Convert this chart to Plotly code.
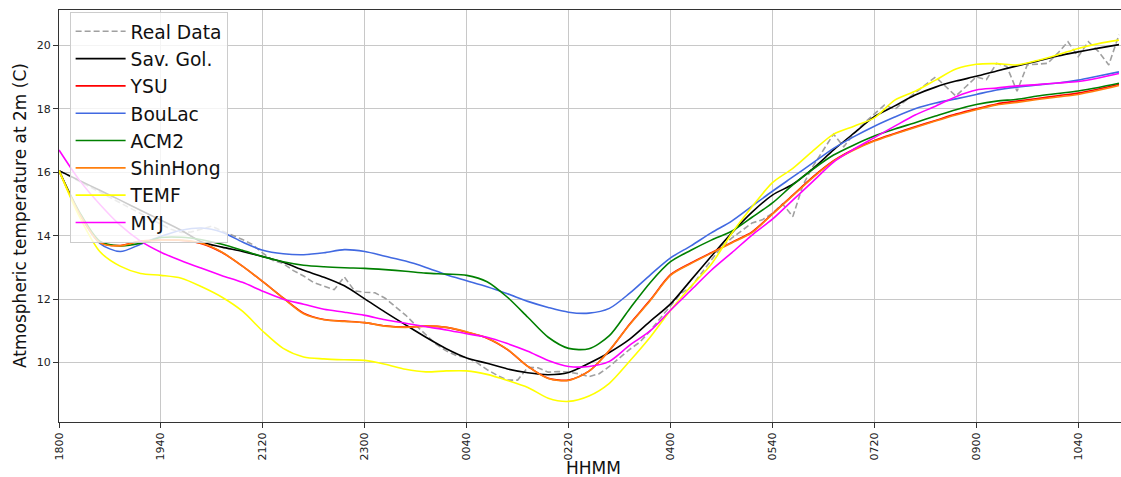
import plotly.graph_objects as go

# minutes after 18:00
t_real = list(range(0, 1041, 10))
t_model = list(range(0, 1041, 20))

tick_vals = [0, 100, 200, 300, 400, 500, 600, 700, 800, 900, 1000]
tick_text = ["1800", "1940", "2120", "2300", "0040", "0220", "0400", "0540", "0720", "0900", "1040"]

real_data = [
    16.05, 15.88, 15.72, 15.55, 15.38, 15.2, 15.02, 14.86, 14.7, 14.52,
    14.36, 14.2, 14.1, 14.12, 14.2, 14.3, 14.15, 14.02, 13.88, 13.72,
    13.45, 13.22, 13.12, 12.9, 12.73, 12.52, 12.4, 12.3, 12.7, 12.26,
    12.22, 12.2, 12.03, 11.75, 11.5, 11.18, 10.88, 10.58, 10.37, 10.22,
    10.16, 10.0, 9.78, 9.6, 9.45, 9.45, 9.85, 9.84, 9.7, 9.72,
    9.7, 9.65, 9.56, 9.65, 9.88, 10.15, 10.42, 10.65, 11.0, 11.4,
    11.8, 12.18, 12.38, 12.8, 13.25, 13.65, 13.92, 14.15, 14.4, 14.5,
    14.7, 15.0, 14.6, 15.6, 16.2, 16.7, 17.2, 16.8, 17.22, 17.55,
    17.85, 18.12, 17.98, 18.25, 18.5, 18.75, 19.0, 18.7, 18.4, 18.7,
    19.0, 18.92, 19.43, 19.33, 18.55, 19.38, 19.4, 19.43, 19.75, 20.11,
    19.64, 20.11, 19.8, 19.38, 20.33,
]

sav_gol = [
    16.05, 15.74, 15.43, 15.12, 14.8, 14.49, 14.17, 13.8, 13.64, 13.5,
    13.34, 13.16, 12.91, 12.69, 12.42, 12.01, 11.59, 11.19, 10.8, 10.44,
    10.15, 9.98, 9.8, 9.68, 9.62, 9.69, 9.98, 10.32, 10.74, 11.3,
    11.85, 12.6, 13.35, 14.08, 14.74, 15.28, 15.62, 16.12, 16.7, 17.23,
    17.75, 18.09, 18.43, 18.68, 18.87, 19.02, 19.19, 19.35, 19.5, 19.66,
    19.79, 19.91, 20.02,
]

ysu = [
    16.05, 14.7, 13.79, 13.69, 13.83, 13.86, 13.85, 13.75, 13.47, 13.04,
    12.55, 12.04, 11.56, 11.36, 11.31, 11.26, 11.16, 11.12, 11.15, 11.11,
    10.96, 10.77, 10.41, 9.88, 9.51, 9.45, 9.73, 10.38, 11.22, 11.97,
    12.77, 13.14, 13.46, 13.79, 14.12, 14.69, 15.28, 15.86, 16.36, 16.72,
    17.0, 17.22, 17.43, 17.63, 17.83, 18.0, 18.15, 18.24, 18.32, 18.41,
    18.49, 18.62, 18.77,
]

boulac = [
    16.05, 14.7, 13.76, 13.5, 13.73, 13.98, 14.17, 14.24, 14.11, 13.8,
    13.54, 13.43, 13.4, 13.46, 13.56, 13.5, 13.35, 13.2, 13.0, 12.77,
    12.58, 12.39, 12.17, 11.93, 11.74, 11.59, 11.56, 11.71, 12.19, 12.76,
    13.3, 13.68, 14.09, 14.46, 14.93, 15.4, 15.85, 16.3, 16.75, 17.12,
    17.45, 17.74, 18.0, 18.18, 18.31, 18.45, 18.59, 18.68, 18.75, 18.81,
    18.9, 19.03, 19.16,
]

acm2 = [
    16.05, 14.75, 13.83, 13.68, 13.76, 13.94, 13.95, 13.87, 13.73, 13.54,
    13.34, 13.18, 13.07, 13.02, 12.99, 12.97, 12.93, 12.88, 12.82, 12.79,
    12.75, 12.55, 12.06, 11.43, 10.8, 10.45, 10.44, 10.85, 11.7, 12.52,
    13.18, 13.54, 13.86, 14.14, 14.58, 15.03, 15.6, 16.1, 16.54, 16.86,
    17.14, 17.36, 17.56, 17.77, 17.97, 18.13, 18.24, 18.3, 18.4, 18.48,
    18.56, 18.67, 18.8,
]

shinhong = [
    16.05, 14.7, 13.78, 13.68, 13.83, 13.86, 13.86, 13.76, 13.48, 13.04,
    12.55, 12.03, 11.54, 11.35, 11.3, 11.26, 11.15, 11.11, 11.15, 11.11,
    10.97, 10.78, 10.42, 9.88, 9.5, 9.44, 9.73, 10.39, 11.2, 11.95,
    12.75, 13.12, 13.45, 13.77, 14.1, 14.68, 15.26, 15.84, 16.35, 16.7,
    16.98, 17.2, 17.41, 17.61, 17.8, 17.97, 18.12, 18.2, 18.29, 18.37,
    18.45, 18.58, 18.73,
]

temf = [
    16.05, 14.6, 13.5, 13.04, 12.81, 12.75, 12.66, 12.39, 12.06, 11.62,
    10.99, 10.45, 10.18, 10.12, 10.09, 10.07, 9.95, 9.79, 9.71, 9.74,
    9.74, 9.63, 9.44, 9.22, 8.88, 8.78, 8.95, 9.35, 10.05, 10.8,
    11.65, 12.4, 13.1, 14.07, 14.91, 15.67, 16.12, 16.68, 17.2, 17.45,
    17.71, 18.27, 18.55, 18.9, 19.25, 19.4, 19.42, 19.38, 19.52, 19.7,
    19.9, 20.05, 20.16,
]

myj = [
    16.7, 15.75, 14.99, 14.33, 13.83, 13.48, 13.21, 12.97, 12.74, 12.53,
    12.25, 12.0, 11.84, 11.68, 11.59, 11.49, 11.35, 11.24, 11.13, 11.03,
    10.91, 10.8, 10.6, 10.36, 10.07, 9.88, 9.88, 10.04, 10.55, 11.0,
    11.65, 12.28, 12.91, 13.46, 14.02, 14.52, 15.12, 15.72, 16.32, 16.73,
    17.09, 17.45, 17.8, 18.08, 18.38, 18.59, 18.65, 18.72, 18.76, 18.81,
    18.86, 18.97, 19.11,
]

series = [
    ("Sav. Gol.", sav_gol, "black"),
    ("YSU", ysu, "red"),
    ("BouLac", boulac, "royalblue"),
    ("ACM2", acm2, "green"),
    ("ShinHong", shinhong, "#ff7f0e"),
    ("TEMF", temf, "yellow"),
    ("MYJ", myj, "magenta"),
]

fig = go.Figure()
fig.add_trace(go.Scatter(
    x=t_real, y=real_data, mode="lines", name="Real Data",
    line=dict(color="#a0a0a0", width=1.6, dash="6px,3px"),
))
for name, vals, col in series:
    fig.add_trace(go.Scatter(
        x=t_model, y=vals, mode="lines", name=name,
        line=dict(color=col, width=1.6, shape="spline", smoothing=0.8),
    ))

axis_common = dict(
    showgrid=True, gridcolor="#c8c8c8", gridwidth=1,
    showline=True, linecolor="#333333", linewidth=1.3,
    ticks="outside", ticklen=5, tickwidth=1, tickcolor="#333333",
    tickfont=dict(family="DejaVu Sans", size=11, color="#222222"),
    zeroline=False, automargin=False,
)

fig.update_layout(
    width=1121, height=477,
    margin=dict(l=59, r=0, t=10, b=55),
    paper_bgcolor="white", plot_bgcolor="white",
    font=dict(family="DejaVu Sans", color="#111111"),
    legend=dict(
        x=0.01, y=0.996, xanchor="left", yanchor="top",
        bgcolor="rgba(255,255,255,0.8)", bordercolor="#cccccc", borderwidth=1,
        font=dict(family="DejaVu Sans", size=18.7, color="#111111"),
        itemwidth=50,
    ),
    xaxis=dict(
        range=[0, 1042], tickmode="array", tickvals=tick_vals, ticktext=tick_text,
        tickangle=-90, mirror=True,
        **axis_common,
    ),
    yaxis=dict(
        range=[8.13, 21.11], tickvals=[10, 12, 14, 16, 18, 20], mirror=False,
        **axis_common,
    ),
    annotations=[
        dict(text="HHMM", xref="paper", yref="paper", x=0, xshift=534,
             y=0, yshift=-46, xanchor="center", yanchor="middle", showarrow=False,
             font=dict(family="DejaVu Sans", size=17, color="#111111")),
        dict(text="Atmospheric temperature at 2m (C)", xref="paper", yref="paper",
             x=0, xshift=-39, y=0.5, xanchor="center", yanchor="middle",
             textangle=-90, showarrow=False,
             font=dict(family="DejaVu Sans", size=17, color="#111111")),
    ],
)

fig.write_html("out.html")
